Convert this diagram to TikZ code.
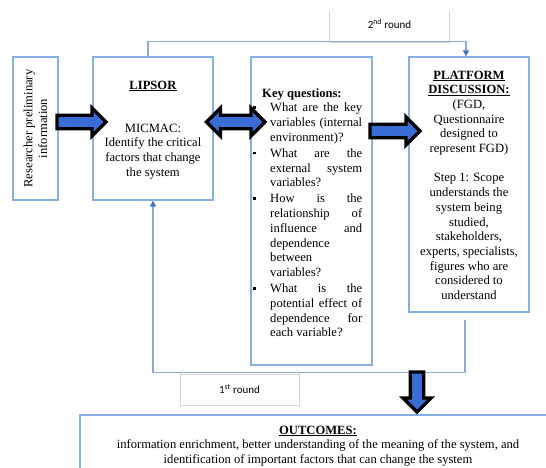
\documentclass[tikz,border=0pt]{standalone}
\usepackage{fontspec}
\setmainfont{Liberation Serif}
\newfontfamily\calfont{Carlito}
\usetikzlibrary{calc,arrows.meta}
\definecolor{boxblue}{RGB}{135,175,228}
\definecolor{lineblue}{RGB}{140,170,220}
\definecolor{tipblue}{RGB}{68,114,196}
\definecolor{arrowfill}{RGB}{58,108,214}
\definecolor{graybox}{RGB}{212,212,212}
\newcommand\fs{\fontsize{12.6pt}{14.7pt}\selectfont}
\newcommand\bul{\makebox[17pt][l]{\rule[3pt]{2.6pt}{2.6pt}}}
\newcommand\ind{\hspace*{17pt}}
% single block arrow from #1 to #2
\newcommand\BlockArrow[2]{%
  \coordinate (bh) at ($(#2)!14pt!(#1)$);
  \draw[blockarrow] ($(#1)!6.8pt!90:(#2)$) -- ($(bh)!6.8pt!90:(#2)$) -- ($(bh)!14pt!90:(#2)$)
    -- (#2) -- ($(bh)!14pt!-90:(#2)$) -- ($(bh)!6.8pt!-90:(#2)$) -- ($(#1)!6.8pt!-90:(#2)$) -- cycle;}
% double block arrow between #1 and #2
\newcommand\BlockDArrow[2]{%
  \coordinate (ba) at ($(#1)!14pt!(#2)$);
  \coordinate (bb) at ($(#2)!14pt!(#1)$);
  \draw[blockarrow] (#1) -- ($(ba)!14pt!90:(#2)$) -- ($(ba)!6.8pt!90:(#2)$) -- ($(bb)!6.8pt!90:(#2)$)
    -- ($(bb)!14pt!90:(#2)$) -- (#2) -- ($(bb)!14pt!-90:(#2)$) -- ($(bb)!6.8pt!-90:(#2)$)
    -- ($(ba)!6.8pt!-90:(#2)$) -- ($(ba)!14pt!-90:(#2)$) -- cycle;}
\tikzset{
  box/.style={draw=boxblue, line width=1.2pt, inner sep=0pt},
  blockarrow/.style={draw=black, fill=arrowfill, line width=3.2pt, line join=miter},
  loopline/.style={draw=lineblue, line width=1.2pt},
  bluetip/.style={-{Triangle[width=6pt,length=6pt,color=tipblue]}},
  roundtext/.style={font=\calfont\fontsize{11pt}{13pt}\selectfont, inner sep=0pt},
  txt/.style={inner sep=0pt, anchor=base}
}
\begin{document}
\begin{tikzpicture}[x=1pt,y=-1pt]
\useasboundingbox (0,0) rectangle (546,467);
\clip (0,0) rectangle (546,467);
% boxes
\node[box, minimum width=45pt, minimum height=143pt] (res) at (35.5,128.5) {};
\node[box, minimum width=120pt, minimum height=143pt] (lip) at (153,128.5) {};
\node[box, minimum width=121pt, minimum height=308pt] (key) at (311.5,211) {};
\node[box, minimum width=120pt, minimum height=255pt] (plat) at (469,184.5) {};
\node[box, minimum width=476pt, minimum height=62pt] (out) at (318,446) {};
% round labels
\node[roundtext, minimum width=119pt, minimum height=37pt] (r2) at (389.5,23.5) {2\textsuperscript{nd} round};
\draw[draw=graybox, line width=0.8pt] ($(r2.north west)+(0,6)$) -- (r2.south west) -- (r2.south east) -- ($(r2.north east)+(0,6)$);
\node[roundtext, draw=graybox, line width=0.8pt, minimum width=119pt, minimum height=31pt] (r1) at (239.5,389.5) {1\textsuperscript{st} round};
% loop connectors
\draw[loopline, bluetip] ($(lip.north)+(-5,0)$) -- ++(0,-15) -| ($(plat.north)+(-3,0)$);
\draw[loopline, bluetip] ($(plat.south)+(-4,7)$) -- ++(0,53) -| (lip.south);
% block arrows
\coordinate (a1s) at (57,122);
\coordinate (a1t) at (106,122);
\coordinate (a2s) at (206.5,122);
\coordinate (a2t) at (265,122);
\coordinate (a3s) at (370,131);
\coordinate (a3t) at (420,131);
\coordinate (a4s) at (417,372);
\coordinate (a4t) at (417,412);
\BlockArrow{a1s}{a1t}
\BlockDArrow{a2s}{a2t}
\BlockArrow{a3s}{a3t}
\BlockArrow{a4s}{a4t}
% texts
\node[inner sep=0pt, rotate=90, align=center, font=\fs] (resT) at (res.center) {Researcher preliminary\\information};
\node[txt] (lipT) at (153,89) {\parbox[t]{118pt}{\centering\fs \underline{\textbf{LIPSOR}}\\[28.5pt]MICMAC:\\Identify the critical\\factors that change\\the system}};
\node[txt, anchor=base west] (keyT) at (253,97) {\parbox[t]{109pt}{\fs
\hspace*{9pt}\textbf{Key questions:}\\
\bul What\hfill are\hfill the\hfill key\\
\ind variables\hfill (internal\\
\ind environment)?\\[1.5pt]
\bul What\hfill are\hfill the\\
\ind external\hfill system\\
\ind variables?\\[1.5pt]
\bul How\hfill is\hfill the\\
\ind relationship\hfill of\\
\ind influence\hfill and\\
\ind dependence\\
\ind between\\
\ind variables?\\[1.5pt]
\bul What\hfill is\hfill the\\
\ind potential\hfill effect\hfill of\\
\ind dependence\hfill for\\
\ind each variable?}};
\node[txt] (platT) at (469,79) {\parbox[t]{116pt}{\centering\fs \underline{\textbf{PLATFORM}}\\\underline{\textbf{DISCUSSION:}}\\(FGD,\\Questionnaire\\designed to\\represent FGD)\\[14.7pt]Step 1: Scope\\understands the\\system being\\studied,\\stakeholders,\\experts, specialists,\\figures who are\\considered to\\understand}};
\node[txt] (outT) at (318,434) {\parbox[t]{460pt}{\centering\fs \underline{\textbf{OUTCOMES:}}\\information enrichment, better understanding of the meaning of the system, and\\identification of important factors that can change the system}};
\end{tikzpicture}
\end{document}
